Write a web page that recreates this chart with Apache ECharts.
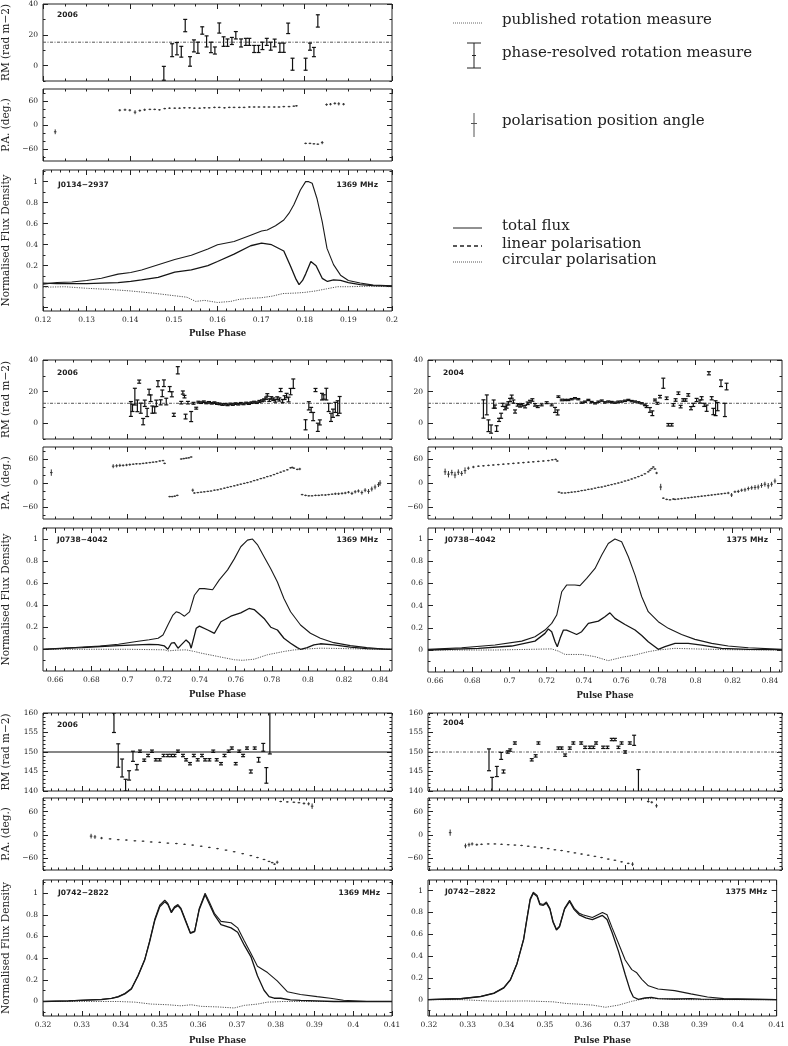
<!DOCTYPE html>
<html>
<head>
<meta charset="utf-8">
<script src="https://cdn.jsdelivr.net/npm/echarts@6/dist/echarts.min.js"></script>
<style>
html,body{margin:0;padding:0;background:#fff;}
#chart{width:788px;height:1046px;}
</style>
</head>
<body>
<div id="chart"></div>
<script>
// ================= DATA =================
// Tick label values
const tlPhaseTicks = [0.12,0.13,0.14,0.15,0.16,0.17,0.18,0.19,0.2];
const mlPhaseTicks = [0.66,0.68,0.7,0.72,0.74,0.76,0.78,0.8,0.82,0.84];
const blPhaseTicks = [0.32,0.33,0.34,0.35,0.36,0.37,0.38,0.39,0.4,0.41];
const fluxTicks = [0,0.2,0.4,0.6,0.8,1];
const rmTicksLow = [0,20,40];
const rmTicksHigh = [140,145,150,155,160];
const paTicks = [-60,0,60];

// ---- J0134-2937, 2006, 1369 MHz : [phase, flux]
const tlI = [[0.12,0.025],[0.1232,0.04],[0.1266,0.045],[0.13,0.06],[0.1334,0.08],[0.1372,0.12],[0.1401,0.135],[0.1426,0.16],[0.1464,0.21],[0.1502,0.26],[0.154,0.3],[0.1578,0.36],[0.16,0.4],[0.1638,0.43],[0.1676,0.49],[0.1701,0.53],[0.1714,0.54],[0.1733,0.58],[0.1752,0.635],[0.1764,0.7],[0.1775,0.78],[0.179,0.92],[0.1802,1.0],[0.1809,1.0],[0.1817,0.985],[0.1828,0.84],[0.184,0.62],[0.1851,0.365],[0.1866,0.21],[0.1882,0.11],[0.19,0.06],[0.1927,0.035],[0.1957,0.015],[0.2,0.01]];
const tlL = [[0.12,0.035],[0.1232,0.03],[0.126,0.03],[0.13,0.03],[0.1334,0.035],[0.1372,0.04],[0.1401,0.05],[0.1426,0.065],[0.1464,0.09],[0.1502,0.14],[0.154,0.16],[0.1578,0.2],[0.16,0.24],[0.1638,0.31],[0.1676,0.39],[0.1701,0.415],[0.1724,0.4],[0.1752,0.34],[0.1767,0.2],[0.1779,0.08],[0.1787,0.02],[0.1795,0.06],[0.1802,0.12],[0.1814,0.24],[0.1826,0.2],[0.184,0.08],[0.1852,0.05],[0.1866,0.065],[0.1882,0.06],[0.19,0.04],[0.1927,0.02],[0.1957,0.01],[0.2,0.005]];
const tlV = [[0.12,-0.005],[0.125,0.0],[0.13,-0.015],[0.135,-0.025],[0.14,-0.04],[0.145,-0.06],[0.15,-0.085],[0.153,-0.1],[0.155,-0.14],[0.157,-0.13],[0.16,-0.15],[0.163,-0.14],[0.165,-0.12],[0.1675,-0.11],[0.17,-0.105],[0.1725,-0.09],[0.175,-0.065],[0.178,-0.06],[0.18,-0.054],[0.1825,-0.04],[0.185,-0.02],[0.1875,0.0],[0.19,0.0],[0.195,0.005],[0.2,0.0]];
// [phase, PA deg, error]
const tlPA = [[0.1228,-17,6],
 [0.1376,37,3],[0.1388,38,3],[0.1399,37,3],[0.1411,32,5],[0.1422,36,3],[0.1433,38,3],[0.1445,39,2],[0.1456,39,2],[0.1467,38,2],[0.1479,41,2],[0.149,42,2],[0.1502,42,2],[0.1513,42,2],[0.1524,43,2],[0.1536,43,2],[0.1547,42,2],[0.1559,42,2],[0.157,43,2],[0.1581,43,2],[0.1593,44,2],[0.1604,44,2],[0.1616,43,2],[0.1627,44,2],[0.1638,44,2],[0.165,44,2],[0.1661,44,2],[0.1673,45,2],[0.1684,45,2],[0.1695,45,2],[0.1707,45,2],[0.1718,45,2],[0.173,45,2],[0.1741,45,2],[0.1752,46,2],[0.1764,46,2],[0.1775,47,2],[0.1781,48,2],
 [0.1802,-46,2],[0.1812,-46,2],[0.1821,-47,2],[0.183,-48,2],[0.184,-44,4],
 [0.185,51,3],[0.1859,52,3],[0.1869,54,3],[0.1878,53,4],[0.1889,52,3]];
// [phase, RM, error]
const tlRM = [[0.1477,-5,4.5],[0.1496,10,4.2],[0.1507,11,4],[0.1517,9,3.5],[0.1526,26,4],[0.1537,2.7,3.1],[0.1546,12.8,3.9],[0.1555,11.6,3.6],[0.1565,22.8,2.4],[0.1575,15.7,3.6],[0.1585,11.8,3.4],[0.1594,9.8,2.3],[0.1604,24.4,3.3],[0.1614,15.6,3.1],[0.1623,14.9,2.4],[0.1633,16,2.3],[0.1642,19.7,2.4],[0.1654,14.7,2.6],[0.1665,15.4,2.3],[0.1673,15.4,2.3],[0.1684,10.8,2.3],[0.1694,10.8,2.3],[0.1703,12.8,2.4],[0.1713,15.4,2.3],[0.1722,12.6,2.6],[0.1731,14.7,2.5],[0.1743,11.6,3],[0.1752,11.6,3],[0.1762,24.2,3.4],[0.1772,0.9,3.9],[0.1802,0.9,3.9],[0.1812,12.3,2.3],[0.1821,8.8,3],[0.183,29,4]];
const tlRMPub = 15.2;

// ---- J0738-4042, 2006, 1369 MHz
const mlI = [[0.6533,0],[0.665,0.008],[0.675,0.02],[0.685,0.03],[0.695,0.045],[0.705,0.07],[0.712,0.087],[0.717,0.1],[0.7197,0.13],[0.7224,0.22],[0.7252,0.31],[0.727,0.34],[0.7289,0.33],[0.7316,0.3],[0.7344,0.34],[0.7371,0.49],[0.7399,0.55],[0.7426,0.55],[0.7472,0.54],[0.7509,0.63],[0.7555,0.72],[0.7592,0.82],[0.7628,0.93],[0.7665,0.99],[0.7693,1.0],[0.772,0.95],[0.7757,0.84],[0.7794,0.73],[0.7831,0.61],[0.7867,0.46],[0.7904,0.34],[0.7959,0.22],[0.8014,0.145],[0.8069,0.1],[0.8143,0.06],[0.8235,0.033],[0.8326,0.015],[0.8418,0.003],[0.8466,0]];
const mlL = [[0.6533,0],[0.665,0.01],[0.675,0.015],[0.685,0.025],[0.695,0.033],[0.705,0.04],[0.712,0.045],[0.717,0.042],[0.7205,0.03],[0.7224,0],[0.7243,0.055],[0.726,0.06],[0.728,0.01],[0.7298,0.04],[0.7325,0.085],[0.7344,0.055],[0.7353,0.01],[0.7381,0.19],[0.7399,0.21],[0.7445,0.175],[0.7482,0.145],[0.7518,0.25],[0.7573,0.3],[0.7628,0.33],[0.7674,0.37],[0.7702,0.36],[0.7757,0.28],[0.7794,0.2],[0.7831,0.175],[0.7867,0.1],[0.7904,0.055],[0.7941,0.015],[0.7959,0],[0.7996,0.015],[0.8033,0.04],[0.8069,0.05],[0.8143,0.04],[0.8235,0.02],[0.8326,0.006],[0.8466,0]];
const mlV = [[0.6533,0],[0.70,0],[0.7206,-0.005],[0.7224,-0.015],[0.727,-0.008],[0.7325,-0.005],[0.7371,-0.02],[0.7408,-0.035],[0.75,-0.065],[0.7592,-0.095],[0.7638,-0.1],[0.7702,-0.09],[0.7775,-0.05],[0.7867,-0.02],[0.7922,-0.006],[0.7996,0.003],[0.8069,0.01],[0.8143,0.008],[0.8326,0.002],[0.8466,0]];
const mlPA = [[0.6578,26,8],
 [0.6921,42,5],[0.694,43,4],[0.6958,44,4],[0.6976,44,3],[0.6995,45,3],[0.7013,46,3],[0.7032,47,2],[0.705,48,2],[0.7069,48,2],[0.7087,49,2],[0.7105,50,2],[0.7124,51,2],[0.7142,52,2],[0.716,53,2],[0.7179,55,2],[0.7197,56,2],[0.7206,49,2],
 [0.7234,-34,2],[0.7248,-34,2],[0.7262,-33,2],[0.7276,-31,2],
 [0.7298,60,2],[0.7312,61,2],[0.7326,62,2],[0.734,63,2],[0.7353,65,2],
 [0.7362,-18,4],[0.7371,-25,2],[0.739,-24,1],[0.7408,-23,1],[0.7426,-22,1],[0.7445,-21,1],[0.7463,-20,1],[0.7482,-18,1],[0.75,-17,1],[0.7518,-15,1],[0.7537,-13,1],[0.7555,-11,1],[0.7573,-9,1],[0.7592,-7,1],[0.761,-5,1],[0.7628,-3,1],[0.7647,-1,1],[0.7665,1,1],[0.7684,3,1],[0.7702,6,1],[0.772,8,1],[0.7739,11,1],[0.7757,13,1],[0.7775,16,1],[0.7794,18,1],[0.7812,21,1],[0.783,24,1],[0.7849,27,1],[0.7867,30,1],[0.7886,33,1],[0.7904,38,2],[0.7913,39,2],[0.7922,37,2],[0.7941,34,2],[0.7955,35,3],
 [0.7968,-29,2],[0.7987,-31,2],[0.8005,-32,2],[0.8023,-32,2],[0.8042,-31,2],[0.806,-31,2],[0.8078,-30,2],[0.8097,-30,2],[0.8115,-29,2],[0.8134,-28,2],[0.8152,-27,3],[0.817,-27,3],[0.8189,-26,3],[0.8207,-25,3],[0.8225,-23,3],[0.8244,-26,4],[0.8262,-22,4],[0.828,-20,4],[0.8299,-24,5],[0.8317,-18,5],[0.8336,-21,6],[0.8354,-15,6],[0.8372,-10,6],[0.8391,-4,6],[0.84,0,7]];
const mlRM = [[0.7019,9,4.7],[0.7028,9.7,2.3],[0.7041,16.8,5.3],[0.7055,11,3.7],[0.7065,26.3,1],[0.7074,9.5,3.2],[0.7087,1,2],[0.7096,12.6,2],[0.7109,6.8,2.6],[0.712,19.7,1.8],[0.7129,15.8,2.1],[0.7138,8.6,2.3],[0.7151,8.4,2],[0.716,12.6,2],[0.7169,25,1.9],[0.7184,13.2,1.6],[0.7193,18.9,2.1],[0.7202,25.3,2.1],[0.7215,13.7,2.1],[0.7234,21.6,1.6],[0.7246,18.3,1.6],[0.7257,5.3,1],[0.7279,33.5,2.3],[0.7298,13,0.8],[0.7307,19.4,1],[0.7316,16.8,0.8],[0.7322,4.2,1.5],[0.7335,13,0.8],[0.7353,4.2,3.2],[0.7366,12.6,0.6],[0.7381,9.5,0.6],
 [0.7393,13.4,0.5],[0.7408,13.0,0.5],[0.7423,13.6,0.5],[0.7437,12.8,0.5],[0.7452,13.2,0.5],[0.7467,12.6,0.5],[0.7482,13.0,0.5],[0.7496,12.4,0.5],[0.7511,12.2,0.5],[0.7526,11.8,0.5],[0.754,12.0,0.5],[0.7555,11.6,0.5],[0.757,12.2,0.5],[0.7584,11.8,0.5],[0.7599,12.4,0.5],[0.7614,12.0,0.5],[0.7628,12.6,0.5],[0.7643,12.2,0.5],[0.7658,12.8,0.5],[0.7673,12.4,0.5],[0.7687,13.0,0.5],[0.7702,13.4,0.5],[0.7717,13.0,0.5],[0.7731,13.8,0.6],[0.7746,14.2,0.6],[0.7757,14.7,0.7],[0.7768,15.8,0.7],[0.7775,17.9,0.8],[0.7786,14.6,0.8],[0.7797,16.0,0.8],[0.7808,15.2,0.8],[0.7819,14.2,0.9],[0.783,15.8,0.9],[0.7842,15.0,1],[0.7849,21,1],[0.786,14.0,1],[0.7871,16.2,1.2],[0.7882,17.5,1.4],[0.7893,15.0,1.5],[0.7904,20,2],[0.7919,25,3],
 [0.7987,-1,3.2],[0.8005,11,2.6],[0.8018,8.4,1.6],[0.8029,4.2,2.6],[0.8042,21,1],[0.8055,-2.6,2.6],[0.8066,0.5,1.6],[0.8078,16.8,2.1],[0.8088,16.6,1.4],[0.8102,18.4,3.7],[0.8115,10,2.6],[0.8128,3.7,2.6],[0.8139,6.3,2.6],[0.8152,10,3.2],[0.8165,9.5,4.7],[0.8176,11.6,5.3]];
const mlRMPub = 12.6;

// ---- J0738-4042, 2004, 1375 MHz
const mrI = [[0.6562,0.006],[0.6743,0.02],[0.6922,0.045],[0.7066,0.08],[0.7137,0.12],[0.7191,0.18],[0.7227,0.24],[0.7254,0.315],[0.7281,0.525],[0.7307,0.585],[0.7352,0.585],[0.7379,0.58],[0.7415,0.645],[0.746,0.735],[0.7496,0.855],[0.7531,0.96],[0.7567,1.0],[0.7603,0.976],[0.7639,0.84],[0.7675,0.675],[0.7711,0.48],[0.7746,0.345],[0.78,0.255],[0.7854,0.195],[0.7925,0.14],[0.7997,0.096],[0.8087,0.06],[0.8176,0.036],[0.8284,0.02],[0.8465,0.006]];
const mrL = [[0.6562,0],[0.6833,0.015],[0.7012,0.036],[0.7137,0.08],[0.7191,0.15],[0.7209,0.19],[0.7218,0.2],[0.7227,0.165],[0.7245,0.075],[0.7257,0.03],[0.7272,0.105],[0.729,0.18],[0.7307,0.18],[0.7334,0.16],[0.7361,0.14],[0.7388,0.165],[0.7424,0.24],[0.7478,0.26],[0.7513,0.3],[0.754,0.335],[0.7567,0.285],[0.7621,0.23],[0.7675,0.18],[0.7711,0.13],[0.7746,0.075],[0.78,0.006],[0.7836,0.03],[0.789,0.06],[0.7961,0.06],[0.8033,0.045],[0.814,0.015],[0.8284,0.006],[0.8465,0.003]];
const mrV = [[0.6562,0],[0.6922,0],[0.7102,0.006],[0.7227,0.01],[0.7263,-0.01],[0.7299,-0.04],[0.7388,-0.04],[0.746,-0.06],[0.7531,-0.096],[0.7603,-0.066],[0.7675,-0.045],[0.7746,-0.015],[0.78,0],[0.789,0.015],[0.7997,0.01],[0.8176,0.003],[0.8465,0]];
const mrPA = [[0.6654,28,8],[0.6672,22,8],[0.669,26,7],[0.6707,20,8],[0.6725,27,7],[0.6743,24,6],[0.6761,31,8],[0.6779,37,4],[0.6806,40,3],[0.6833,42,2],[0.686,43,2],[0.6887,44,2],[0.6913,45,2],[0.694,46,2],[0.6967,47,2],[0.6994,48,2],[0.7021,49,2],[0.7048,50,2],[0.7075,51,2],[0.7102,52,2],[0.7128,53,2],[0.7155,54,2],[0.7182,55,2],[0.7209,56,2],[0.723,58,2],[0.7248,59,2],[0.7257,55,2],
 [0.7266,-23,2],[0.7281,-25,1],[0.7299,-25,1],[0.7317,-24,1],[0.7334,-23,1],[0.7352,-22,1],[0.737,-21,1],[0.7388,-19,1],[0.7406,-18,1],[0.7424,-16,1],[0.7442,-15,1],[0.746,-13,1],[0.7478,-11,1],[0.7496,-10,1],[0.7514,-8,1],[0.7531,-6,1],[0.7549,-4,1],[0.7567,-2,1],[0.7585,0,1],[0.7603,2,1],[0.7621,5,1],[0.7639,7,1],[0.7657,10,1],[0.7675,13,1],[0.7693,16,1],[0.7711,19,1],[0.7728,23,1],[0.7746,28,1],[0.7755,32,1],[0.7764,36,1],[0.7773,40,2],[0.7782,35,2],[0.7791,25,3],[0.7813,-10,8],
 [0.7827,-38,2],[0.7845,-41,2],[0.7863,-42,2],[0.7881,-40,2],[0.789,-41,2],[0.7907,-40,2],[0.7925,-39,2],[0.7943,-38,2],[0.7961,-37,2],[0.7979,-36,2],[0.7997,-35,2],[0.8015,-34,2],[0.8033,-33,2],[0.8051,-32,2],[0.8069,-31,2],[0.8087,-30,2],[0.8105,-29,2],[0.8122,-28,2],[0.814,-27,2],[0.8158,-26,2],[0.8176,-25,3],[0.8194,-30,5],[0.8212,-22,3],[0.823,-21,4],[0.8248,-18,4],[0.8266,-17,5],[0.8284,-14,5],[0.8302,-12,5],[0.832,-11,6],[0.8337,-10,6],[0.8355,-6,6],[0.8373,-3,6],[0.8391,-7,7],[0.8409,-3,6],[0.8427,5,6]];
const mrRM = [[0.686,9,5.8],[0.6878,11.6,6.3],[0.6887,-1.6,3.7],[0.6901,-3.7,2.6],[0.6915,12.1,2.6],[0.6922,10.5,1],[0.6931,-3.4,1.8],[0.6944,2.1,1],[0.6955,4.7,1.6],[0.6964,11.6,1],[0.6976,9.5,1],[0.6985,10.5,1],[0.6994,12.6,1],[0.7003,14.7,1],[0.7012,16.8,1],[0.7021,13.7,1],[0.703,7.4,1],[0.7044,11.6,0.8],[0.7057,11,0.8],[0.7069,11.6,0.8],[0.7084,10.5,0.8],[0.7098,12.6,0.8],[0.711,13.7,0.8],[0.7123,14.7,0.8],[0.7137,11.6,0.8],[0.7152,10.5,0.6],[0.7173,11.6,0.6],[0.72,13,0.6],[0.7227,11.6,0.6],[0.7245,8.4,1.6],[0.7259,6.8,1.6],[0.7263,16.8,0.5],[0.7281,14.7,0.5],[0.7299,14.7,0.4],[0.7316,14.7,0.4],[0.7334,15.2,0.4],[0.7352,15.8,0.4],[0.737,15.2,0.4],[0.7388,13,0.4],[0.7406,13.6,0.4],[0.7424,14.7,0.4],[0.7442,13.4,0.4],[0.746,12.6,0.4],[0.7478,13.6,0.4],[0.7496,14.3,0.4],[0.7513,13.2,0.4],[0.7531,13.7,0.4],[0.7549,13.4,0.4],[0.7567,13,0.4],[0.7585,13.6,0.4],[0.7603,13.7,0.4],[0.7621,14.2,0.4],[0.7639,14.7,0.4],[0.7657,14.0,0.4],[0.7675,13.7,0.4],[0.7693,13.2,0.4],[0.7711,12.6,0.4],[0.7728,11.6,0.5],[0.7737,10.5,0.6],[0.7755,8.4,1.5],[0.7768,6.3,1.5],[0.7782,14.7,0.6],[0.7795,12.6,0.6],[0.7809,16.8,0.8],[0.7827,25.3,3.2],[0.7845,15.8,0.8],[0.7854,-1,0.8],[0.7872,-1,0.8],[0.7881,11.6,0.8],[0.7893,14.7,0.8],[0.7908,19,0.8],[0.792,10.5,0.8],[0.7934,14.7,0.8],[0.7947,14.7,0.8],[0.7961,17.9,0.8],[0.7976,9.5,1],[0.7988,11.6,1],[0.8006,14.7,1],[0.8024,13.7,1],[0.8033,15.8,1],[0.8047,11.6,1],[0.806,9.5,2],[0.8072,31.6,1],[0.8087,15.8,1],[0.8096,7.4,2],[0.8108,9.5,4.7],[0.8119,10.5,2.6],[0.8137,25.3,2.1],[0.8158,8.4,4.2],[0.8167,23.2,2.1]];
const mrRMPub = 12.6;

// ---- J0742-2822, 2006, 1369 MHz
const blI = [[0.32,0],[0.3266,0.006],[0.3351,0.02],[0.3377,0.03],[0.3394,0.045],[0.3411,0.074],[0.3428,0.12],[0.3445,0.24],[0.3462,0.385],[0.3475,0.56],[0.3488,0.757],[0.3501,0.89],[0.3514,0.935],[0.3522,0.905],[0.3531,0.83],[0.3539,0.875],[0.3548,0.896],[0.3556,0.86],[0.3569,0.74],[0.358,0.635],[0.3591,0.65],[0.3603,0.86],[0.3618,1.0],[0.3629,0.92],[0.3642,0.815],[0.3659,0.74],[0.3685,0.727],[0.3702,0.68],[0.3719,0.56],[0.3736,0.445],[0.3753,0.326],[0.3779,0.267],[0.3804,0.19],[0.383,0.09],[0.3864,0.065],[0.3907,0.045],[0.3941,0.03],[0.3975,0.012],[0.4035,0.0],[0.41,0.0]];
const blL = [[0.32,0],[0.3266,0.005],[0.3351,0.018],[0.3377,0.028],[0.3394,0.043],[0.3411,0.07],[0.3428,0.115],[0.3445,0.235],[0.3462,0.38],[0.3475,0.55],[0.3488,0.745],[0.3501,0.875],[0.3514,0.92],[0.3522,0.895],[0.3531,0.82],[0.3539,0.865],[0.3548,0.885],[0.3556,0.85],[0.3569,0.73],[0.358,0.63],[0.3591,0.645],[0.3603,0.85],[0.3618,0.985],[0.3629,0.9],[0.3642,0.8],[0.3659,0.71],[0.3685,0.68],[0.3702,0.64],[0.3719,0.52],[0.3736,0.415],[0.3753,0.237],[0.377,0.104],[0.3783,0.045],[0.3796,0.03],[0.3813,0.03],[0.3838,0.015],[0.3864,0.01],[0.395,0.0],[0.41,0.0]];
const blV = [[0.32,0],[0.3394,0],[0.3437,-0.006],[0.3479,-0.024],[0.3522,-0.03],[0.3556,-0.04],[0.3582,-0.03],[0.3608,-0.045],[0.365,-0.05],[0.3693,-0.06],[0.3719,-0.036],[0.3753,-0.024],[0.3779,-0.006],[0.3821,0],[0.41,0]];
const blPA = [[0.3324,-3,6],[0.3334,-5,5],[0.3351,-8,3],[0.3373,-10,2],[0.3394,-12,1.5],[0.3415,-13,1.5],[0.3437,-15,1.5],[0.3458,-16,1.5],[0.3479,-18,1.5],[0.3501,-19,1.5],[0.3522,-21,1.5],[0.3544,-22,1.5],[0.3565,-24,1.5],[0.3586,-26,1.5],[0.3608,-29,1.5],[0.3629,-32,1.5],[0.365,-35,1.5],[0.3672,-39,1.5],[0.3693,-43,1.5],[0.3715,-48,1.5],[0.3736,-53,1.5],[0.3753,-58,1.5],[0.377,-63,1.5],[0.3783,-68,1.5],[0.3791,-71,2],[0.3797,-75,2],[0.3804,-70,4],
 [0.3813,86,2],[0.383,85,2],[0.3847,84,2],[0.386,83,2],[0.3873,81,3],[0.3885,80,4],[0.3894,74,7]];
const blRM = [[0.3383,157.5,2.5],[0.3394,149.1,3],[0.3404,145.9,2.3],[0.3413,141.5,1.5],[0.3422,144,1.2],[0.3432,148.9,1.3],[0.3442,146.1,0.7],[0.345,150.2,0.3],[0.3461,147.9,0.3],[0.3471,149.1,0.3],[0.3481,150.2,0.3],[0.3491,148,0.3],[0.3501,148,0.3],[0.3511,149.1,0.3],[0.3522,149.1,0.3],[0.3531,149.1,0.3],[0.3539,149.1,0.3],[0.3548,150.2,0.3],[0.3561,149.1,0.3],[0.3569,148,0.3],[0.3579,147,0.3],[0.3589,149.1,0.3],[0.3599,148,0.3],[0.361,149.1,0.3],[0.3618,148,0.3],[0.3629,148,0.3],[0.3639,150.2,0.3],[0.3648,148,0.3],[0.3659,147,0.3],[0.3668,149.1,0.3],[0.3679,150.2,0.3],[0.3687,151,0.3],[0.3697,147,0.3],[0.3706,150.2,0.3],[0.3716,149.1,0.3],[0.3726,151,0.3],[0.3736,145,0.4],[0.3746,151,0.3],[0.3756,148,0.6],[0.3768,151.2,1],[0.3776,144,2],[0.3785,155,5.5]];
const blRMPub = 150;

// ---- J0742-2822, 2004, 1375 MHz
const brI = [[0.3198,0],[0.3283,0.009],[0.3334,0.03],[0.3368,0.06],[0.3394,0.112],[0.3411,0.186],[0.3428,0.334],[0.3445,0.556],[0.3453,0.734],[0.3462,0.926],[0.347,0.985],[0.3475,1.0],[0.348,0.956],[0.3487,0.882],[0.3496,0.873],[0.3504,0.896],[0.3513,0.837],[0.3521,0.72],[0.353,0.645],[0.3538,0.675],[0.3551,0.837],[0.3564,0.91],[0.3576,0.837],[0.3589,0.793],[0.3598,0.778],[0.3623,0.754],[0.3649,0.8],[0.3661,0.778],[0.3674,0.66],[0.3691,0.512],[0.3708,0.364],[0.3725,0.275],[0.3738,0.246],[0.3751,0.186],[0.3768,0.127],[0.3793,0.098],[0.3836,0.083],[0.3878,0.053],[0.3921,0.024],[0.3963,0.009],[0.41,0]];
const brL = [[0.3198,0],[0.3283,0.008],[0.3334,0.028],[0.3368,0.057],[0.3394,0.108],[0.3411,0.182],[0.3428,0.33],[0.3445,0.55],[0.3453,0.725],[0.3462,0.915],[0.347,0.975],[0.3475,0.99],[0.348,0.945],[0.3487,0.872],[0.3496,0.865],[0.3504,0.885],[0.3513,0.83],[0.3521,0.712],[0.353,0.638],[0.3538,0.668],[0.3551,0.83],[0.3564,0.9],[0.3576,0.825],[0.3589,0.778],[0.3606,0.749],[0.3623,0.734],[0.3649,0.772],[0.3661,0.734],[0.3674,0.615],[0.3691,0.438],[0.3708,0.231],[0.3721,0.083],[0.3729,0.024],[0.3742,0.003],[0.3759,0.015],[0.3776,0.02],[0.3793,0.009],[0.3836,0.006],[0.3878,0.009],[0.3904,0.004],[0.41,0]];
const brV = [[0.3198,0],[0.3283,0],[0.3368,-0.015],[0.3453,-0.012],[0.3521,-0.02],[0.3555,-0.035],[0.3581,-0.04],[0.3623,-0.05],[0.3657,-0.07],[0.3691,-0.05],[0.3725,-0.015],[0.3759,0.01],[0.3793,0.009],[0.3836,0.003],[0.3878,0],[0.41,0]];
const brPA = [[0.3254,6,8],[0.3293,-28,6],[0.3302,-25,5],[0.331,-23,4],[0.3322,-25,3],[0.3334,-24,2],[0.3351,-23,1.5],[0.3368,-23,1.5],[0.3385,-24,1.5],[0.3402,-25,1.5],[0.3419,-26,1.5],[0.3436,-27,1.5],[0.3453,-29,1.5],[0.347,-31,1.5],[0.3487,-33,1.5],[0.3504,-35,1.5],[0.3521,-38,1.5],[0.3538,-40,1.5],[0.3555,-43,1.5],[0.3572,-46,1.5],[0.3589,-49,1.5],[0.3606,-52,1.5],[0.3623,-55,1.5],[0.364,-58,1.5],[0.3657,-62,1.5],[0.3674,-65,1.5],[0.3691,-69,1.5],[0.3708,-73,2],[0.3719,-75,5],
 [0.3759,86,3],[0.3768,84,3],[0.378,75,5]];
const brRM = [[0.3353,148,2.8],[0.3361,141.5,2],[0.3373,145,1.3],[0.3384,149,0.9],[0.339,145,0.4],[0.3401,150,0.3],[0.3407,150.5,0.3],[0.3419,152.3,0.3],[0.3462,148,0.3],[0.3472,149,0.3],[0.3479,152.3,0.3],[0.353,151,0.3],[0.3538,151,0.3],[0.3547,149.2,0.3],[0.3559,151,0.3],[0.3568,152.3,0.3],[0.3588,152.3,0.3],[0.3598,151.2,0.3],[0.361,151.2,0.3],[0.3619,151.2,0.3],[0.3626,152.3,0.3],[0.3644,151.2,0.3],[0.3655,151.2,0.3],[0.3666,153.2,0.3],[0.3674,153.2,0.3],[0.3683,151.2,0.3],[0.3691,152.3,0.3],[0.37,150,0.3],[0.3712,152.3,0.3],[0.3723,153,1.3],[0.3734,142.5,3]];
const brRMPub = 150;

// ================= HELPERS =================
function seq(a, b, s) { const o = []; for (let k = 0; k < 5000; k++) { const v = +(a + k * s).toFixed(6); if (v > b + 1e-9) break; o.push(v); } return o; }
function within(arr, r) { return arr.filter(v => v >= r[0] - 1e-9 && v <= r[1] + 1e-9); }
function fmt(v) { return String(+(+v).toFixed(4)).replace('-', '\u2212'); }

const INK = '#222';
const LBL = { fontFamily: 'DejaVu Serif', fontSize: 7.5, color: INK };
const option = { animation: false, backgroundColor: '#fff', grid: [], xAxis: [], yAxis: [], series: [], graphic: [] };

function addPanel(rect, xr, yr, t) {
  const gi = option.grid.length;
  option.grid.push({ left: rect[0], top: rect[1], width: rect[2] - rect[0], height: rect[3] - rect[1], show: true, borderColor: INK, borderWidth: 1, backgroundColor: 'rgba(0,0,0,0)' });
  const xi = option.xAxis.length, yi = option.yAxis.length;
  const base = r => ({ gridIndex: gi, type: 'value', min: r[0], max: r[1], splitLine: { show: false }, axisLine: { show: false, onZero: false } });
  const tk = (vals, len) => ({ show: true, inside: true, length: len, customValues: vals, lineStyle: { color: INK, width: 1 } });
  const xMaj = within(t.xMajor, xr), xMin = within(t.xMinor, xr);
  const yMaj = within(t.yMajor, yr), yMin = within(t.yMinor, yr);
  option.xAxis.push(Object.assign(base(xr), {
    position: 'bottom', axisTick: tk(xMaj, 5),
    axisLabel: t.xLabels ? Object.assign({ show: true, customValues: within(t.xLabels, xr), formatter: fmt, margin: 5 }, LBL) : { show: false },
    name: t.xName || '', nameLocation: 'middle', nameGap: t.xNameGap || 18,
    nameTextStyle: { fontFamily: 'DejaVu Serif', fontWeight: 'bold', fontSize: 8.5, color: INK }
  }));
  option.xAxis.push(Object.assign(base(xr), { position: 'top', axisTick: tk(xMaj, 5), axisLabel: { show: false } }));
  option.xAxis.push(Object.assign(base(xr), { position: 'bottom', axisTick: tk(xMin, 2.5), axisLabel: { show: false } }));
  option.xAxis.push(Object.assign(base(xr), { position: 'top', axisTick: tk(xMin, 2.5), axisLabel: { show: false } }));
  option.yAxis.push(Object.assign(base(yr), {
    position: 'left', axisTick: tk(yMaj, 5),
    axisLabel: Object.assign({ show: true, customValues: within(t.yLabels, yr), formatter: fmt, margin: 5 }, LBL),
    name: t.yName || '', nameLocation: 'middle', nameGap: 31,
    nameTextStyle: { fontFamily: 'DejaVu Serif', fontSize: 10.5, color: INK }
  }));
  option.yAxis.push(Object.assign(base(yr), { position: 'right', axisTick: tk(yMaj, 5), axisLabel: { show: false } }));
  option.yAxis.push(Object.assign(base(yr), { position: 'left', axisTick: tk(yMin, 2.5), axisLabel: { show: false } }));
  option.yAxis.push(Object.assign(base(yr), { position: 'right', axisTick: tk(yMin, 2.5), axisLabel: { show: false } }));
  return { xi, yi };
}

function renderRM(params, api) {
  const x = api.value(0), v = api.value(1), e = api.value(2);
  const p1 = api.coord([x, v + e]), p2 = api.coord([x, v - e]);
  const c = 2, st = { stroke: '#111', lineWidth: 1.2 };
  return { type: 'group', children: [
    { type: 'line', shape: { x1: p1[0], y1: p1[1], x2: p2[0], y2: p2[1] }, style: st },
    { type: 'line', shape: { x1: p1[0] - c, y1: p1[1], x2: p1[0] + c, y2: p1[1] }, style: st },
    { type: 'line', shape: { x1: p2[0] - c, y1: p2[1], x2: p2[0] + c, y2: p2[1] }, style: st }
  ]};
}
function renderPA(params, api) {
  const x = api.value(0), v = api.value(1), e = api.value(2);
  const p1 = api.coord([x, v + e]), p2 = api.coord([x, v - e]), m = api.coord([x, v]);
  const st = { stroke: '#333', lineWidth: 1 };
  return { type: 'group', children: [
    { type: 'line', shape: { x1: m[0], y1: Math.min(p1[1], m[1] - 0.7), x2: m[0], y2: Math.max(p2[1], m[1] + 0.7) }, style: st },
    { type: 'line', shape: { x1: m[0] - 1.3, y1: m[1], x2: m[0] + 1.3, y2: m[1] }, style: st }
  ]};
}

// ================= LAYOUT =================
const blocks = [
  { cols: [41, 392], rows: [[1, 81], [89, 161], [170, 311]], xr: [0.12, 0.2], flY: [-0.231, 1.111], rmY: [-10, 40], paY: [-90, 90],
    xLabels: tlPhaseTicks, xMinorFl: seq(0.12, 0.2, 0.002), xMajorUp: seq(0.12, 0.2, 0.02), xMinorUp: seq(0.12, 0.2, 0.005),
    rmMajor: rmTicksLow, rmMinor: seq(-10, 40, 10), paMinor: seq(-80, 80, 20), names: true, xNameGap: 18,
    I: tlI, L: tlL, V: tlV, PA: tlPA, RM: tlRM, pub: tlRMPub, pubSolid: false,
    txt: [['2006', 57, 11], ['J0134\u22122937', 58, 181], ['1369 MHz', 378, 181, 'r']] },
  { cols: [41, 392], rows: [[360, 439], [447, 519], [528, 671]], xr: [0.6532, 0.8466], flY: [-0.197, 1.1], rmY: [-10, 40], paY: [-90, 90],
    xLabels: mlPhaseTicks, xMinorFl: seq(0.65, 0.85, 0.005), xMajorUp: [0.7, 0.75, 0.8], xMinorUp: seq(0.65, 0.85, 0.01),
    rmMajor: rmTicksLow, rmMinor: seq(-10, 40, 10), paMinor: seq(-80, 80, 20), names: true, xNameGap: 19,
    I: mlI, L: mlL, V: mlV, PA: mlPA, RM: mlRM, pub: mlRMPub, pubSolid: false,
    txt: [['2006', 57, 369], ['J0738\u22124042', 57, 536], ['1369 MHz', 378, 536, 'r']] },
  { cols: [428, 782], rows: [[360, 439], [447, 519], [528, 672]], xr: [0.6562, 0.8465], flY: [-0.198, 1.099], rmY: [-10, 40], paY: [-90, 90],
    xLabels: mlPhaseTicks, xMinorFl: seq(0.65, 0.85, 0.005), xMajorUp: [0.7, 0.75, 0.8], xMinorUp: seq(0.65, 0.85, 0.01),
    rmMajor: rmTicksLow, rmMinor: seq(-10, 40, 10), paMinor: seq(-80, 80, 20), names: false, xNameGap: 19,
    I: mrI, L: mrL, V: mrV, PA: mrPA, RM: mrRM, pub: mrRMPub, pubSolid: false,
    txt: [['2004', 443, 369], ['J0738\u22124042', 445, 536], ['1375 MHz', 768, 536, 'r']] },
  { cols: [41, 392], rows: [[713, 791], [798, 870], [880, 1021]], xr: [0.32, 0.41], flY: [-0.134, 1.122], rmY: [140, 160], paY: [-90, 95],
    xLabels: blPhaseTicks, xMinorFl: seq(0.32, 0.41, 0.002), xMajorUp: [0.33, 0.35, 0.37, 0.39], xMinorUp: seq(0.32, 0.41, 0.002),
    rmMajor: rmTicksHigh, rmMinor: seq(140, 160, 1), paMinor: seq(-90, 90, 10), names: true, xNameGap: 20,
    I: blI, L: blL, V: blV, PA: blPA, RM: blRM, pub: blRMPub, pubSolid: true,
    txt: [['2006', 57, 721], ['J0742\u22122822', 58, 889], ['1369 MHz', 380, 889, 'r']] },
  { cols: [428, 782], rows: [[713, 791], [798, 870], [880, 1021]], xr: [0.31975, 0.41], flY: [-0.15, 1.097], rmY: [140, 160], paY: [-90, 95],
    xLabels: blPhaseTicks, xMinorFl: seq(0.32, 0.41, 0.002), xMajorUp: [0.33, 0.35, 0.37, 0.39], xMinorUp: seq(0.32, 0.41, 0.002),
    rmMajor: rmTicksHigh, rmMinor: seq(140, 160, 1), paMinor: seq(-90, 90, 10), names: false, xNameGap: 20,
    I: brI, L: brL, V: brV, PA: brPA, RM: brRM, pub: brRMPub, pubSolid: false,
    txt: [['2004', 443, 719], ['J0742\u22122822', 445, 888], ['1375 MHz', 767, 888, 'r']] }
];

blocks.forEach(b => {
  const [l, r] = b.cols;
  // RM panel
  const rm = addPanel([l, b.rows[0][0], r, b.rows[0][1]], b.xr, b.rmY, {
    xMajor: b.xMajorUp, xMinor: b.xMinorUp, yMajor: b.rmMajor, yMinor: b.rmMinor, yLabels: b.rmMajor,
    yName: b.names ? 'RM (rad m\u22122)' : '' });
  option.series.push({ type: 'line', xAxisIndex: rm.xi, yAxisIndex: rm.yi, data: [[b.xr[0], b.pub], [b.xr[1], b.pub]],
    symbol: 'none', silent: true, z: 2,
    lineStyle: b.pubSolid ? { color: '#111', width: 1.2, type: 'solid' } : { color: '#555', width: 1, type: [3, 1.5, 1, 1.5] } });
  option.series.push({ type: 'custom', xAxisIndex: rm.xi, yAxisIndex: rm.yi, data: b.RM, encode: { x: 0, y: 1 }, clip: true, renderItem: renderRM, silent: true, z: 3 });
  // PA panel
  const pa = addPanel([l, b.rows[1][0], r, b.rows[1][1]], b.xr, b.paY, {
    xMajor: b.xMajorUp, xMinor: b.xMinorUp, yMajor: paTicks, yMinor: b.paMinor, yLabels: paTicks,
    yName: b.names ? 'P.A. (deg.)' : '' });
  option.series.push({ type: 'custom', xAxisIndex: pa.xi, yAxisIndex: pa.yi, data: b.PA, encode: { x: 0, y: 1 }, clip: true, renderItem: renderPA, silent: true, z: 3 });
  // Flux panel
  const fl = addPanel([l, b.rows[2][0], r, b.rows[2][1]], b.xr, b.flY, {
    xMajor: b.xLabels, xMinor: b.xMinorFl, xLabels: b.xLabels, xName: 'Pulse Phase', xNameGap: b.xNameGap,
    yMajor: [-0.2].concat(fluxTicks), yMinor: seq(-0.2, 1.1, 0.1), yLabels: fluxTicks,
    yName: b.names ? 'Normalised Flux Density' : '' });
  option.series.push({ type: 'line', xAxisIndex: fl.xi, yAxisIndex: fl.yi, data: b.V, symbol: 'none', silent: true, clip: true, z: 2,
    lineStyle: { color: '#555', width: 1, type: [1.2, 1.2] } });
  option.series.push({ type: 'line', xAxisIndex: fl.xi, yAxisIndex: fl.yi, data: b.L, symbol: 'none', silent: true, clip: true, z: 3,
    lineStyle: { color: '#151515', width: 1.3 } });
  option.series.push({ type: 'line', xAxisIndex: fl.xi, yAxisIndex: fl.yi, data: b.I, symbol: 'none', silent: true, clip: true, z: 4,
    lineStyle: { color: '#1a1a1a', width: 1.1 } });
  // labels inside panels
  b.txt.forEach(tx => {
    const el = { type: 'text', top: tx[2], style: { text: tx[0], font: 'bold 7.5px "DejaVu Sans"', fill: INK } };
    if (tx[3] === 'r') el.right = 788 - tx[1]; else el.left = tx[1];
    option.graphic.push(el);
  });
});

// ================= LEGEND (decorative key) =================
const legendFont = '15px "DejaVu Serif"';
[['published rotation measure', 22], ['phase-resolved rotation measure', 55], ['polarisation position angle', 123],
 ['total flux', 228], ['linear polarisation', 246], ['circular polarisation', 262]].forEach(it => {
  option.graphic.push({ type: 'text', left: 502, top: it[1] - 9, style: { text: it[0], font: legendFont, fill: '#222' } });
});
option.graphic.push(
  { type: 'line', shape: { x1: 453, y1: 23, x2: 482, y2: 23 }, style: { stroke: '#666', lineWidth: 1, lineDash: [1, 1] } },
  { type: 'line', shape: { x1: 474, y1: 43, x2: 474, y2: 68 }, style: { stroke: '#222', lineWidth: 1 } },
  { type: 'line', shape: { x1: 467, y1: 43, x2: 481, y2: 43 }, style: { stroke: '#222', lineWidth: 1 } },
  { type: 'line', shape: { x1: 467, y1: 68, x2: 481, y2: 68 }, style: { stroke: '#222', lineWidth: 1 } },
  { type: 'line', shape: { x1: 472, y1: 55.5, x2: 476, y2: 55.5 }, style: { stroke: '#222', lineWidth: 1 } },
  { type: 'line', shape: { x1: 474, y1: 113, x2: 474, y2: 137 }, style: { stroke: '#555', lineWidth: 1 } },
  { type: 'line', shape: { x1: 471, y1: 123.5, x2: 477, y2: 123.5 }, style: { stroke: '#555', lineWidth: 1 } },
  { type: 'line', shape: { x1: 453, y1: 228, x2: 482, y2: 228 }, style: { stroke: '#222', lineWidth: 1 } },
  { type: 'line', shape: { x1: 453, y1: 246, x2: 482, y2: 246 }, style: { stroke: '#222', lineWidth: 1.5, lineDash: [4, 3] } },
  { type: 'line', shape: { x1: 453, y1: 262, x2: 482, y2: 262 }, style: { stroke: '#555', lineWidth: 1, lineDash: [1, 1] } }
);

const chart = echarts.init(document.getElementById('chart'), null, { renderer: 'canvas' });
chart.setOption(option);
</script>
</body>
</html>
